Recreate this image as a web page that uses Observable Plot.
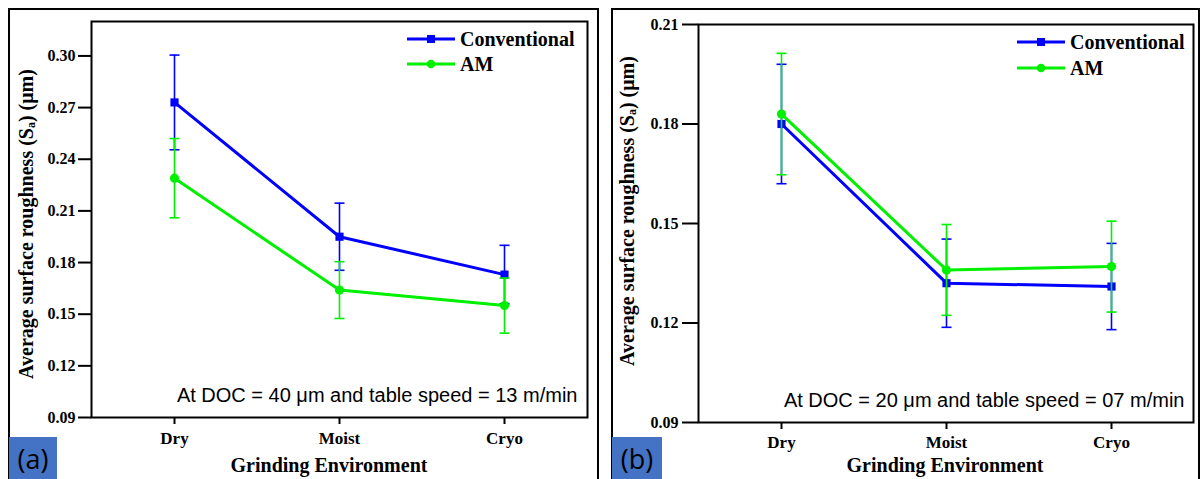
<!DOCTYPE html>
<html>
<head>
<meta charset="utf-8">
<script src="https://cdn.jsdelivr.net/npm/d3@7"></script>
<script src="https://cdn.jsdelivr.net/npm/@observablehq/plot@0.6"></script>
<style>
  body { margin: 0; background: #fff; }
  #wrap { position: relative; width: 1203px; height: 479px; overflow: hidden; background: #fff; }
  .panel { position: absolute; top: 0; }
  .panel g[aria-label="y-axis tick label"] text { font-size: 16px; font-weight: bold; font-family: "Liberation Serif", serif; }
  .panel g[aria-label="x-axis tick label"] text { font-size: 17px; font-weight: bold; font-family: "Liberation Serif", serif; }
  .border { position: absolute; border: 2.5px solid #000; box-sizing: border-box; pointer-events: none; }
  .ytitle { position: absolute; font: bold 20px "Liberation Serif", serif; white-space: nowrap;
            transform: translate(-50%, -50%) rotate(-90deg); color: #000; }
  .xtitle { position: absolute; font: bold 20px "Liberation Serif", serif; white-space: nowrap;
            transform: translate(-50%, -50%); color: #000; }
  .tag { position: absolute; background: #4472C4; color: #000; font: 27px "Open Sans", sans-serif;
         display: flex; align-items: center; justify-content: center; }
  .leg { position: absolute; font: bold 20px "Liberation Serif", serif; white-space: nowrap; color: #000;
         display: flex; align-items: center; height: 24px; }
  .leg svg { display: block; margin-right: 5px; }
</style>
</head>
<body>
<div id="wrap"></div>
<script>
// ---------- data ----------
const categories = ["Dry", "Moist", "Cryo"];
const seriesNames = ["Conventional", "AM"];

// Panel (a): DOC = 40 µm, table speed = 13 m/min
const convA    = [0.273, 0.195, 0.173];
const convAErr = [0.0275, 0.0195, 0.017];
const amA      = [0.229, 0.164, 0.155];
const amAErr   = [0.023, 0.0165, 0.016];
const yTicksA  = [0.09, 0.12, 0.15, 0.18, 0.21, 0.24, 0.27, 0.30];
const noteA    = "At DOC = 40 \u03BCm and table speed = 13 m/min";

// Panel (b): DOC = 20 µm, table speed = 07 m/min
const convB    = [0.180, 0.132, 0.131];
const convBErr = [0.018, 0.0133, 0.013];
const amB      = [0.183, 0.136, 0.137];
const amBErr   = [0.0183, 0.0137, 0.0137];
const yTicksB  = [0.09, 0.12, 0.15, 0.18, 0.21];
const noteB    = "At DOC = 20 \u03BCm and table speed = 07 m/min";

const BLUE = "#0000ff";
const GREEN = "#00f000";

// ---------- drawing ----------
const cap = { draw(ctx) { ctx.moveTo(-5, 0); ctx.lineTo(5, 0); } };

function seriesMarks(data, color, symbol) {
  return [
    Plot.ruleX(data, { x: "env", y1: d => d.value - d.err, y2: d => d.value + d.err, stroke: color, strokeWidth: 1.6 }),
    Plot.dot(data, { x: "env", y: d => d.value - d.err, symbol: cap, stroke: color, strokeWidth: 1.6, fill: "none" }),
    Plot.dot(data, { x: "env", y: d => d.value + d.err, symbol: cap, stroke: color, strokeWidth: 1.6, fill: "none" }),
    Plot.line(data, { x: "env", y: "value", stroke: color, strokeWidth: 3 }),
    Plot.dot(data, { x: "env", y: "value", symbol, fill: color, stroke: "none", r: 4.6 })
  ];
}

function panel(o) {
  const rows = (vals, errs, s) => categories.map((c, i) => ({ env: c, value: vals[i], err: errs[i], series: s }));
  const convRows = rows(o.conv, o.convErr, seriesNames[0]);
  const amRows = rows(o.am, o.amErr, seriesNames[1]);
  return Plot.plot({
    width: o.width,
    height: 479,
    marginLeft: o.ml, marginRight: o.mr, marginTop: o.mt, marginBottom: o.mb,
    x: { type: "point", domain: categories, padding: 0.5 },
    y: { domain: o.yDomain },
    style: { fontFamily: "'Liberation Serif', serif", fontSize: "16px", color: "#000", background: "transparent", overflow: "visible" },
    marks: [
      Plot.axisY({ ticks: o.yTicks, tickFormat: d3.format(".2f"), tickSize: o.yTickSize, tickPadding: o.yTickPad,
                   label: null, fontSize: 16, fontWeight: "bold", strokeWidth: 2 }),
      Plot.axisX({ tickSize: 7, tickPadding: o.xTickPad, label: null, fontSize: 17, fontWeight: "bold", strokeWidth: 2 }),
      ...seriesMarks(convRows, BLUE, "square"),
      ...seriesMarks(amRows, GREEN, "circle"),
      Plot.frame({ stroke: "#000", strokeWidth: 2 }),
      Plot.text([o.note], { text: d => d, frameAnchor: "bottom-right", textAnchor: "end", lineAnchor: "middle",
                            dx: o.noteDx, dy: o.noteDy, fontSize: 20, fontFamily: "'Liberation Sans', sans-serif",
                            fontWeight: "normal", fill: "#000" })
    ]
  });
}

const wrap = document.getElementById("wrap");

function place(el, left) {
  el.classList.add("panel");
  el.style.left = left + "px";
  wrap.appendChild(el);
}

place(panel({
  width: 600, ml: 91, mr: 13, mt: 21, mb: 62,
  yDomain: [0.09, 0.32], yTicks: yTicksA, yTickSize: 13, yTickPad: 3, xTickPad: 7,
  conv: convA, convErr: convAErr, am: amA, amErr: amAErr,
  note: noteA, noteDx: -10, noteDy: -22
}), 0);

place(panel({
  width: 603, ml: 98, mr: 10, mt: 24, mb: 57,
  yDomain: [0.09, 0.21], yTicks: yTicksB, yTickSize: 16, yTickPad: 4, xTickPad: 6,
  conv: convB, convErr: convBErr, am: amB, amErr: amBErr,
  note: noteB, noteDx: -9, noteDy: -22
}), 600);

function addDiv(cls, styles, html) {
  const d = document.createElement("div");
  d.className = cls;
  Object.assign(d.style, styles);
  if (html != null) d.innerHTML = html;
  wrap.appendChild(d);
  return d;
}

// panel borders
addDiv("border", { left: "8px", top: "8px", width: "591px", height: "490px" });
addDiv("border", { left: "611px", top: "8px", width: "589px", height: "490px" });

// axis titles
const yTitle = 'Average surface roughness (S<sub style="font-size:60%;vertical-align:-0.15em">a</sub>) (\u03BCm)';
addDiv("ytitle", { left: "27px", top: "224px" }, yTitle);
addDiv("ytitle", { left: "628px", top: "211px" }, yTitle);
addDiv("xtitle", { left: "329px", top: "465px" }, "Grinding Environment");
addDiv("xtitle", { left: "945px", top: "465px" }, "Grinding Environment");

// panel tags
addDiv("tag", { left: "9px", top: "437px", width: "48px", height: "42px" }, "(a)");
addDiv("tag", { left: "612px", top: "437px", width: "50px", height: "42px" }, "(b)");

// legends
function legendRow(x, y, color, symbol, name) {
  const mk = symbol === "square"
    ? `<rect x="20" y="6" width="8" height="8" fill="${color}"/>`
    : `<circle cx="24" cy="10" r="4.3" fill="${color}"/>`;
  addDiv("leg", { left: x + "px", top: (y - 12) + "px" },
    `<svg width="48" height="20"><line x1="0" y1="10" x2="48" y2="10" stroke="${color}" stroke-width="3"/>${mk}</svg>${name}`);
}
legendRow(407, 39, BLUE, "square", seriesNames[0]);
legendRow(407, 64, GREEN, "circle", seriesNames[1]);
legendRow(1017, 42, BLUE, "square", seriesNames[0]);
legendRow(1017, 68, GREEN, "circle", seriesNames[1]);
</script>
</body>
</html>
